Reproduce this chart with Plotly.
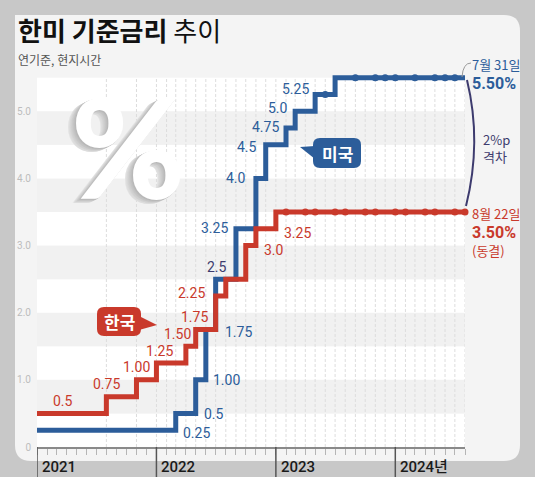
import plotly.graph_objects as go

# ==================================================
# Données (taux directeurs, pas mensuel)
# ==================================================
kr_months = ["2021-01", "2021-08", "2021-11", "2022-01", "2022-04", "2022-05", "2022-07",
             "2022-08", "2022-10", "2022-11", "2023-01", "2024-08"]
kr_rates = [0.5, 0.75, 1.00, 1.25, 1.50, 1.75, 2.25, 2.50, 3.00, 3.25, 3.50, 3.50]
kr_hold_months = ["2023-02", "2023-04", "2023-05", "2023-07", "2023-08", "2023-10", "2023-11",
                  "2024-01", "2024-02", "2024-04", "2024-05", "2024-07", "2024-08"]

us_months = ["2021-01", "2022-03", "2022-05", "2022-06", "2022-07", "2022-09", "2022-11",
             "2022-12", "2023-02", "2023-03", "2023-05", "2023-07", "2024-08"]
us_rates = [0.25, 0.5, 1.00, 1.75, 2.5, 3.25, 4.0, 4.5, 4.75, 5.0, 5.25, 5.5, 5.5]
us_hold_months = ["2023-06", "2023-09", "2023-11", "2023-12", "2024-01", "2024-03", "2024-05",
                  "2024-06", "2024-07"]

kr_labels = ["0.5", "0.75", "1.00", "1.25", "1.50", "1.75", "2.25", "3.0", "3.25"]
us_labels = ["0.25", "0.5", "1.00", "1.75", "3.25", "4.0", "4.5", "4.75", "5.0", "5.25"]
shared_label = "2.5"

y_ticks = [0, 1, 2, 3, 4, 5]
y_tick_text = ["0", "1.0", "2.0", "3.0", "4.0", "5.0"]
year_ticks = ["2021-01-01", "2022-01-01", "2023-01-01", "2024-01-01"]
year_text = ["2021", "2022", "2023", "2024년"]

# ==================================================
# Style
# ==================================================
WIDTH, HEIGHT = 535, 477
PLOT_L, PLOT_R, PLOT_T, PLOT_B = 37, 465, 71, 447
Y_MAX = 5.6
X_RANGE = ["2021-01-01", "2024-08-01"]

US_BLUE = "#2c5d9a"
KR_RED = "#c9392b"
NAVY = "#3d3b6e"
FONT = "Noto Sans CJK KR"
NUM_FONT = "Roboto, Noto Sans CJK KR"


##################################################
def fx(px): return (px - PLOT_L) / (PLOT_R - PLOT_L)


def fy(py): return (PLOT_B - py) / (PLOT_B - PLOT_T)


##################################################
def path(points, close=True):
	""" Construit un chemin SVG en coordonnées papier à partir de pixels """
	d = "M " + " L ".join(f"{fx(x):.5f},{fy(y):.5f}" for x, y in points)
	return d + (" Z" if close else "")


##################################################
def rounded_rect(x0, y0, x1, y1, r_tl, r_tr, r_br, r_bl):
	def p(x, y): return f"{fx(x):.5f},{fy(y):.5f}"
	return (f"M {p(x0 + r_tl, y0)} L {p(x1 - r_tr, y0)} Q {p(x1, y0)} {p(x1, y0 + r_tr)} "
			f"L {p(x1, y1 - r_br)} Q {p(x1, y1)} {p(x1 - r_br, y1)} "
			f"L {p(x0 + r_bl, y1)} Q {p(x0, y1)} {p(x0, y1 - r_bl)} "
			f"L {p(x0, y0 + r_tl)} Q {p(x0, y0)} {p(x0 + r_tl, y0)} Z")


##################################################
def text_px(fig, px, py, text, size, color, anchor="center", family=FONT, **font_kw):
	""" Texte positionné en pixels (ancrage vertical au centre) """
	fig.add_annotation(x=fx(px), y=fy(py), xref="paper", yref="paper", xanchor=anchor, yanchor="middle",
					   text=text, showarrow=False, align="left",
					   font=dict(size=size, color=color, family=family, **font_kw))


##################################################
def rate_at(months, rates, month):
	value = rates[0]
	for m, r in zip(months, rates):
		if m <= month: value = r
	return value


fig = go.Figure()

# Panneau de fond
fig.add_shape(type="path", xref="paper", yref="paper", layer="below",
			  path=rounded_rect(15, 15, 520, 461, 0, 16, 16, 16),
			  fillcolor="#f4f4f4", line=dict(width=0))

# Bandes horizontales
for i in range(11):
	y0 = i * 0.5
	fig.add_shape(type="rect", xref="paper", yref="y", x0=0, x1=1, y0=y0, y1=y0 + 0.5, layer="below",
				  fillcolor="#ffffff" if i % 2 == 0 else "#f1f1f1", line=dict(width=0))

# Lignes verticales aux dates de réunion
grid_months = sorted(set(kr_months[1:-1] + kr_hold_months + us_months[1:-1] + us_hold_months + ["2022-02"]))
for m in grid_months:
	fig.add_shape(type="line", xref="x", yref="y", x0=m, x1=m, y0=0, y1=5.5, layer="below",
				  line=dict(color="#dddddd", width=1, dash="3px,2px"))

# Séries
fig.add_trace(go.Scatter(x=us_months, y=us_rates, mode="lines",
						 line=dict(shape="hv", width=5, color=US_BLUE), hoverinfo="skip"))
fig.add_trace(go.Scatter(x=us_hold_months, y=[rate_at(us_months, us_rates, m) for m in us_hold_months],
						 mode="markers", marker=dict(size=7, color=US_BLUE), cliponaxis=False, hoverinfo="skip"))
fig.add_trace(go.Scatter(x=kr_months, y=kr_rates, mode="lines",
						 line=dict(shape="hv", width=5, color=KR_RED), hoverinfo="skip"))
fig.add_trace(go.Scatter(x=kr_hold_months, y=[rate_at(kr_months, kr_rates, m) for m in kr_hold_months],
						 mode="markers", marker=dict(size=7, color=KR_RED), cliponaxis=False, hoverinfo="skip"))

# Etiquettes des paliers : (mois, valeur, dx, dy, ancrage)
us_pos = [("2022-03", 0.25, 5, 3, "left"), ("2022-05", 0.5, 6, 1, "left"), ("2022-06", 1.0, 5, 0, "left"),
		  ("2022-07", 1.75, 7, 2, "left"), ("2022-09", 3.25, -6, -1, "right"), ("2022-11", 4.0, -8, 0, "right"),
		  ("2022-12", 4.5, -7, 2, "right"), ("2023-02", 4.75, -5, -1, "right"), ("2023-03", 5.0, -5, -3, "right"),
		  ("2023-05", 5.25, -4, -6, "right")]
kr_pos = [("2021-01", 0.5, 26, -12, "center"), ("2021-08", 0.75, 0, -13, "center"),
		  ("2021-11", 1.0, 0, -13, "center"), ("2022-01", 1.25, 3, -12, "center"),
		  ("2022-04", 1.5, -8, -12, "center"), ("2022-05", 1.75, -1, -13, "center"),
		  ("2022-07", 2.25, -9, -3, "right"), ("2022-10", 3.0, 16, 4, "left"), ("2022-11", 3.25, 26, 4, "left")]

for labels, positions, color in [(us_labels, us_pos, US_BLUE), (kr_labels, kr_pos, KR_RED)]:
	for text, (m, v, dx, dy, anchor) in zip(labels, positions):
		fig.add_annotation(x=m, y=v, xref="x", yref="y", text=text, showarrow=False, xanchor=anchor,
						   yanchor="middle", xshift=dx, yshift=-dy, font=dict(size=14, color=color, family=NUM_FONT))
fig.add_annotation(x="2022-07", y=2.5, text=shared_label, showarrow=False, xanchor="center", yanchor="middle",
				   xshift=1, yshift=12, font=dict(size=14, color=NAVY, family=NUM_FONT))

# Titre
text_px(fig, 16, 29, "<b>한미 기준금리</b> 추이", 26, "#111111", anchor="left")
text_px(fig, 16, 59, "연기준, 현지시간", 12, "#555555", anchor="left")

# Pourcentage décoratif : face blanche, relief gris par ombres portées
relief = ", ".join(f"-{k}px {k * 0.5:.1f}px 0 rgb({178 + 6 * k},{178 + 6 * k},{178 + 6 * k})"
				   for k in range(1, 9))
text_px(fig, 128, 145, "%", 138, "#ffffff", family="Lato, Liberation Sans", weight=900, shadow=relief)

# Bulles
fig.add_shape(type="path", xref="paper", yref="paper", path=rounded_rect(313, 138, 361, 168, 7, 7, 7, 7),
			  fillcolor=US_BLUE, line=dict(width=0))
fig.add_shape(type="path", xref="paper", yref="paper", path=path([(315, 146), (300, 147), (315, 159)]),
			  fillcolor=US_BLUE, line=dict(width=0))
text_px(fig, 337, 153, "<b>미국</b>", 17, "white")

fig.add_shape(type="path", xref="paper", yref="paper", path=rounded_rect(97, 307, 141, 336, 7, 7, 7, 7),
			  fillcolor=KR_RED, line=dict(width=0))
fig.add_shape(type="path", xref="paper", yref="paper", path=path([(139, 316), (157, 325), (139, 330)]),
			  fillcolor=KR_RED, line=dict(width=0))
text_px(fig, 119, 321, "<b>한국</b>", 17, "white")

# Annotations de droite
fig.add_shape(type="path", xref="paper", yref="paper",
			  path=f"M {fx(462):.5f},{fy(77):.5f} Q {fx(463):.5f},{fy(63):.5f} {fx(471):.5f},{fy(63):.5f}",
			  line=dict(color="#999999", width=1))
fig.add_shape(type="path", xref="paper", yref="paper",
			  path=f"M {fx(467):.5f},{fy(80):.5f} Q {fx(482):.5f},{fy(142):.5f} {fx(466):.5f},{fy(206):.5f}",
			  line=dict(color=NAVY, width=2))

text_px(fig, 470, 64, "7월 31일", 13, US_BLUE, anchor="left")
text_px(fig, 470, 84, "<b>5.50%</b>", 16, US_BLUE, anchor="left", family=NUM_FONT)
text_px(fig, 470, 213, "8월 22일", 13, KR_RED, anchor="left")
text_px(fig, 470, 232, "<b>3.50%</b>", 16, KR_RED, anchor="left", family=NUM_FONT)
text_px(fig, 470, 250, "(동결)", 13, KR_RED, anchor="left")
text_px(fig, 481, 148, "2%p<br>격차", 13, NAVY, anchor="left")

# Axe des années
for t, txt in zip(year_ticks, year_text):
	fig.add_shape(type="line", xref="x", yref="paper", x0=t, x1=t, y0=0, y1=fy(478),
				  line=dict(color="#555555", width=1.5))
	fig.add_annotation(x=t, y=fy(467), xref="x", yref="paper", xanchor="left", yanchor="middle", text=txt,
					   xshift=3, showarrow=False, font=dict(size=15, color="#1a1a1a", family=NUM_FONT, weight=500))

fig.update_layout(width=WIDTH, height=HEIGHT, margin=dict(l=PLOT_L, r=WIDTH - PLOT_R, t=PLOT_T, b=HEIGHT - PLOT_B),
				  paper_bgcolor="#c8c8c8", plot_bgcolor="rgba(0,0,0,0)", showlegend=False,
				  font=dict(family=FONT))
fig.update_xaxes(type="date", range=X_RANGE, showgrid=False, zeroline=False, showline=True,
				 linecolor="#8a8a8a", linewidth=1.5, ticks="outside", ticklen=6, tickwidth=1,
				 tickcolor="#b5b5b5", dtick="M1", tick0="2021-01-01", showticklabels=False)
fig.update_yaxes(range=[0, Y_MAX], showgrid=False, zeroline=False, tickvals=y_ticks, ticktext=y_tick_text,
				 ticks="outside", ticklen=3, tickcolor="rgba(0,0,0,0)",
				 tickfont=dict(size=10, color="#bdbdbd", family=NUM_FONT))

# Marge du navigateur supprimée pour que la figure occupe toute la fenêtre
fig.write_html("out.html", config={"displayModeBar": False},
			   post_script="document.body.style.margin='0px';")
